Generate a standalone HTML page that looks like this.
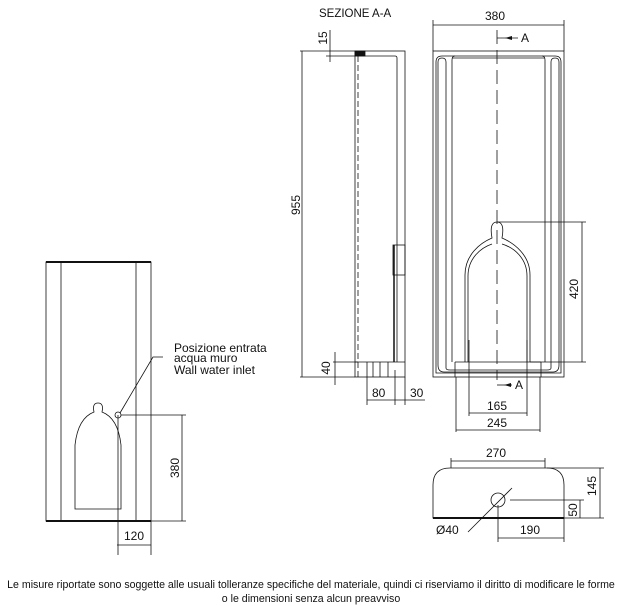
<!DOCTYPE html>
<html><head><meta charset="utf-8"><style>
html,body{margin:0;padding:0;background:#fff;width:629px;height:606px;overflow:hidden}
svg{display:block}
text{font-family:"Liberation Sans",sans-serif;fill:#111}
</style></head><body>
<svg width="629" height="606" viewBox="0 0 629 606" xmlns="http://www.w3.org/2000/svg">
<g stroke="#111" fill="none" stroke-width="0.8">
<!-- Left elevation -->
<rect x="46" y="262" width="105" height="259"/>
<line x1="46" y1="262" x2="151" y2="262" stroke-width="2"/>
<line x1="46" y1="521" x2="151" y2="521" stroke-width="2"/>
<line x1="61" y1="262" x2="61" y2="521"/>
<line x1="136" y1="262" x2="136" y2="521"/>
<path d="M75 509 V445 Q78 418 94 412 Q92 403 98 403 Q104 403 102 412 Q118 418 121 445 V509 Z"/>
<circle cx="118" cy="415" r="3"/>
<polyline points="120,413 153,357 163,357"/>
<line x1="118" y1="415" x2="118" y2="555"/>
<line x1="121" y1="415" x2="186" y2="415"/>
<line x1="151" y1="521" x2="186" y2="521"/>
<line x1="182" y1="415" x2="182" y2="521"/>
<line x1="151" y1="521" x2="151" y2="555"/>
<line x1="117" y1="545" x2="151" y2="545"/>
<!-- Side section -->
<rect x="355" y="51" width="50" height="326"/>
<rect x="355" y="51" width="10" height="5" fill="#111"/>
<path d="M358 56 H395 Q397 56 397 58 V362"/>
<line x1="358" y1="56" x2="358" y2="377" stroke-dasharray="6,3"/>
<rect x="393" y="245" width="12" height="30"/>
<line x1="394" y1="245" x2="394" y2="362" stroke-width="1.5"/>
<line x1="355" y1="362" x2="405" y2="362"/>
<line x1="367" y1="362" x2="367" y2="377"/>
<line x1="373" y1="362" x2="373" y2="377"/>
<line x1="380" y1="362" x2="380" y2="377"/>
<line x1="388" y1="362" x2="388" y2="377"/>
<line x1="302" y1="51" x2="302" y2="377"/>
<line x1="300" y1="51" x2="355" y2="51"/>
<line x1="300" y1="377" x2="355" y2="377"/>
<line x1="330" y1="30" x2="330" y2="62"/>
<line x1="326" y1="56" x2="358" y2="56"/>
<line x1="335" y1="352" x2="335" y2="385"/>
<line x1="333" y1="362" x2="358" y2="362"/>
<line x1="367" y1="377" x2="367" y2="405"/>
<line x1="395" y1="370" x2="395" y2="405"/>
<line x1="405" y1="377" x2="405" y2="405"/>
<line x1="367" y1="400" x2="425" y2="400"/>
<!-- Front -->
<rect x="433" y="51" width="131" height="326"/>
<path d="M436 373 V62 Q436 56 442 56 H555 Q561 56 561 62 V373 Z"/>
<path d="M438 365 V62 Q438 58 442 58 Q446 58 446 62 V368 Q446 370 450 370 H547 Q551 370 551 368 V62 Q551 58 555 58 Q559 58 559 62 V365 Q559 372 553 372 H444 Q438 372 438 365 Z"/>
<line x1="452" y1="58" x2="545" y2="58"/>
<path d="M452 362 V60 Q452 56 455 56 M545 362 V60 Q545 56 542 56"/>
<line x1="455" y1="362" x2="455" y2="377"/>
<line x1="541" y1="362" x2="541" y2="377"/>
<line x1="455" y1="362" x2="541" y2="362"/>
<path d="M465 362 V275 C465 255 480 243 492 238 Q489 222 497 222 Q505 222 502 238 C514 243 530 255 530 275 V362"/>
<path d="M468 362 V276 C468 259 480 248 492 244 M527 362 V276 C527 259 515 248 502 244"/>
<line x1="497" y1="30" x2="497" y2="380" stroke-dasharray="14,6"/>
<line x1="433" y1="20" x2="433" y2="51"/>
<line x1="564" y1="20" x2="564" y2="51"/>
<line x1="433" y1="25" x2="564" y2="25"/>
<line x1="497" y1="38" x2="518" y2="38"/>
<line x1="497" y1="385" x2="512" y2="385"/>
<line x1="497" y1="222" x2="586" y2="222"/>
<line x1="530" y1="362" x2="586" y2="362"/>
<line x1="582" y1="222" x2="582" y2="362"/>
<line x1="469" y1="340" x2="469" y2="416"/>
<line x1="527" y1="340" x2="527" y2="416"/>
<line x1="469" y1="413" x2="527" y2="413"/>
<line x1="456" y1="377" x2="456" y2="432"/>
<line x1="540" y1="377" x2="540" y2="432"/>
<line x1="456" y1="430" x2="540" y2="430"/>
<!-- Top view -->
<path d="M433 518 V485 Q433 468 450 468 H547 Q564 468 564 485 V518 Z"/>
<line x1="433" y1="518" x2="564" y2="518" stroke-width="2"/>
<circle cx="498" cy="500" r="7"/>
<line x1="468" y1="532" x2="512" y2="488"/>
<line x1="451" y1="458" x2="451" y2="468"/>
<line x1="545" y1="458" x2="545" y2="468"/>
<line x1="451" y1="461" x2="545" y2="461"/>
<line x1="547" y1="468" x2="604" y2="468"/>
<line x1="564" y1="518" x2="604" y2="518"/>
<line x1="600" y1="468" x2="600" y2="518"/>
<line x1="510" y1="500" x2="584" y2="500"/>
<line x1="580" y1="500" x2="580" y2="518"/>
<line x1="498" y1="505" x2="498" y2="542"/>
<line x1="564" y1="518" x2="564" y2="542"/>
<line x1="498" y1="538" x2="564" y2="538"/>
</g>
<g fill="#111">
<polygon points="505,38 512,36 512,40"/>
<polygon points="504,385 511,383 511,387"/>
</g>
<g font-size="12">
<text x="319" y="17" font-size="11.5">SEZIONE A-A</text>
<text x="485" y="20">380</text>
<text x="521" y="42">A</text>
<text x="515" y="389">A</text>
<text transform="translate(300,205) rotate(-90)" text-anchor="middle">955</text>
<text transform="translate(327,38) rotate(-90)" text-anchor="middle">15</text>
<text transform="translate(330,368) rotate(-90)" text-anchor="middle">40</text>
<text x="372" y="397">80</text>
<text x="410" y="397">30</text>
<text transform="translate(578,289) rotate(-90)" text-anchor="middle">420</text>
<text x="487" y="410">165</text>
<text x="487" y="427">245</text>
<text x="174" y="352">Posizione entrata</text>
<text x="174" y="362">acqua muro</text>
<text x="174" y="374">Wall water inlet</text>
<text transform="translate(179,468) rotate(-90)" text-anchor="middle">380</text>
<text x="124" y="540">120</text>
<text x="486" y="457">270</text>
<text transform="translate(596,486) rotate(-90)" text-anchor="middle">145</text>
<text transform="translate(577,510) rotate(-90)" text-anchor="middle">50</text>
<text x="436" y="534">Ø40</text>
<text x="520" y="534">190</text>
</g>
<g font-size="10.6" text-anchor="middle">
<text x="311" y="588">Le misure riportate sono soggette alle usuali tolleranze specifiche del materiale, quindi ci riserviamo il diritto di modificare  le forme</text>
<text x="311" y="602">o le dimensioni senza alcun preavviso</text>
</g>
</svg>
</body></html>
